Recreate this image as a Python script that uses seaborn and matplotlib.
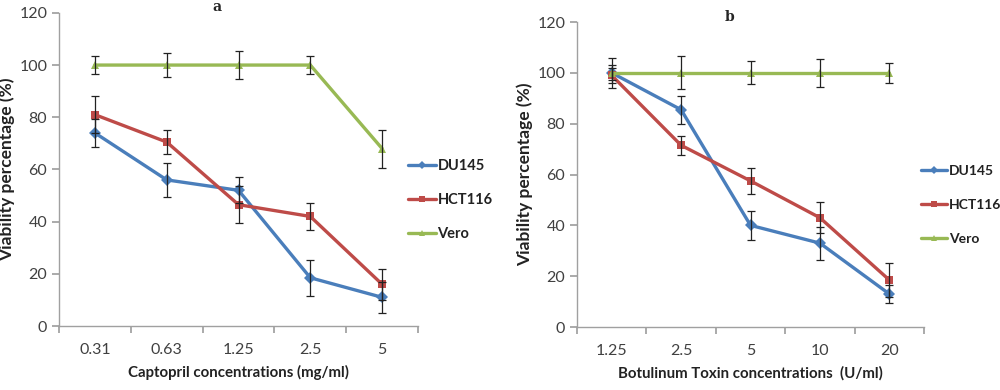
import numpy as np
import pandas as pd
import seaborn as sns
import matplotlib.pyplot as plt
from matplotlib.lines import Line2D

# data
captopril_conc = ["0.31", "0.63", "1.25", "2.5", "5"]
captopril_du145 = [74, 56, 52, 18.5, 11]
captopril_du145_err = [5.5, 6.5, 5, 6.8, 6]
captopril_hct116 = [81, 70.5, 46.5, 42, 16]
captopril_hct116_err = [7, 4.5, 7, 5.3, 6]
captopril_vero = [100, 100, 100, 100, 68]
captopril_vero_err = [3.5, 4.7, 5.3, 3.3, 7.3]

botox_conc = ["1.25", "2.5", "5", "10", "20"]
botox_du145 = [100, 85.5, 40, 33, 13]
botox_du145_err = [3, 5.5, 5.7, 6.5, 3.5]
botox_hct116 = [99, 71.5, 57.5, 43, 18.5]
botox_hct116_err = [3, 3.8, 5, 6, 6.5]
botox_vero = [100, 100, 100, 100, 100]
botox_vero_err = [6, 6.5, 4.5, 5.5, 4]

lines = ["DU145", "HCT116", "Vero"]
colors = {"DU145": "#4a7ebb", "HCT116": "#be4b48", "Vero": "#98b954"}
markers = {"DU145": "D", "HCT116": "s", "Vero": "^"}
msize = {"DU145": 4, "HCT116": 4, "Vero": 5}

sns.set_theme(style="white")
plt.rcParams["font.family"] = ["Lato", "DejaVu Sans"]


def make_df(conc, series, errs):
    rows = []
    for name, vals, err in zip(lines, series, errs):
        for i, (c, v, e) in enumerate(zip(conc, vals, err)):
            rows.append({"pos": i, "conc": c, "Cell line": name, "value": v, "err": e})
    return pd.DataFrame(rows)


def draw(ax, df, conc, xlabel, title, title_xy, legend_xy, legend_size, legend_gap):
    sns.lineplot(data=df, x="pos", y="value", hue="Cell line", style="Cell line",
                 palette=colors, markers=markers, dashes=False, linewidth=2.4,
                 markersize=6, markeredgewidth=0, ax=ax, legend=False, zorder=3)
    for name in lines:
        sub = df[df["Cell line"] == name]
        ax.errorbar(sub["pos"], sub["value"], yerr=sub["err"], fmt="none",
                    ecolor="#222222", elinewidth=0.9, capsize=3, capthick=0.9, zorder=4)

    ax.set_xlim(-0.5, len(conc) - 0.5)
    ax.set_ylim(0, 120)
    ax.set_yticks(range(0, 121, 20))
    ax.set_xticks(np.arange(-0.5, len(conc)), labels=[""] * (len(conc) + 1))
    ax.set_xticks(range(len(conc)), labels=conc, minor=True)
    ax.tick_params(axis="x", which="major", length=5, color="#a0a0a0", direction="out")
    ax.tick_params(axis="x", which="minor", length=0, pad=12, labelsize=11.5, labelcolor="#404040")
    ax.tick_params(axis="y", length=5, color="#a0a0a0", labelsize=11.5, labelcolor="#404040")
    ax.yaxis.set_ticks_position("left")
    ax.xaxis.set_ticks_position("bottom")
    for s in ["top", "right"]:
        ax.spines[s].set_visible(False)
    for s in ["left", "bottom"]:
        ax.spines[s].set_color("#a0a0a0")
        ax.spines[s].set_linewidth(1)
    ax.set_xlabel(xlabel, fontsize=10.8, fontweight="bold", color="#222222", labelpad=6)
    ax.set_ylabel("Viability percentage (%)", fontsize=12.5, fontweight="bold",
                  color="#222222", labelpad=3)
    ax.figure.text(title_xy[0], title_xy[1], title, fontsize=10, fontweight="bold",
                   family="DejaVu Serif", ha="center", va="top")

    handles = [Line2D([], [], color=colors[n], marker=markers[n], markersize=msize[n],
                      markeredgewidth=0, linewidth=2.4) for n in lines]
    leg = ax.figure.legend(handles, lines, loc="upper left", bbox_to_anchor=legend_xy,
                           frameon=False, borderpad=0, handlelength=1.9, handletextpad=0.1,
                           labelspacing=legend_gap, prop={"weight": "bold", "size": legend_size})
    for t in leg.get_texts():
        t.set_color("#222222")


fig = plt.figure(figsize=(10, 3.9), dpi=100)
ax1 = fig.add_axes([0.059, 0.164, 0.359, 0.803])
ax2 = fig.add_axes([0.577, 0.1615, 0.347, 0.782])

df1 = make_df(captopril_conc, [captopril_du145, captopril_hct116, captopril_vero],
              [captopril_du145_err, captopril_hct116_err, captopril_vero_err])
df2 = make_df(botox_conc, [botox_du145, botox_hct116, botox_vero],
              [botox_du145_err, botox_hct116_err, botox_vero_err])

draw(ax1, df1, captopril_conc, "Captopril concentrations (mg/ml)", "a",
     (0.217, 1.0), (0.401, 0.612), 10.5, 1.4)
draw(ax2, df2, botox_conc, "Botulinum Toxin concentrations  (U/ml)", "b",
     (0.730, 0.975), (0.914, 0.595), 10, 1.6)

fig.savefig("out.png", dpi=100)
